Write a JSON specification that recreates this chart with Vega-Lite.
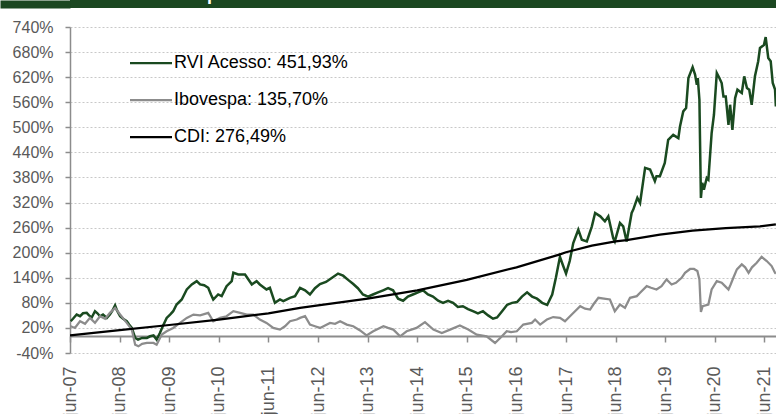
{
  "$schema": "https://vega.github.io/schema/vega-lite/v6.json",
  "padding": {"left": -4, "top": 0, "right": 0, "bottom": 0},
  "background": "white",
  "spacing": 11,
  "config": {"view": {"stroke": null}},
  "vconcat": [
    {
      "width": 706,
      "height": 8,
      "view": {"fill": "#1b4721", "stroke": null},
      "data": {"values": [{"titulo": "RVI Acesso x Ibovespa x CDI"}]},
      "mark": {"type": "text", "clip": true, "align": "left", "baseline": "alphabetic", "dx": -391, "dy": -3.6, "font": "Liberation Sans", "fontWeight": "bold", "fontSize": 18, "color": "white"},
      "encoding": {
        "text": {"field": "titulo", "type": "nominal"},
        "y": {
          "datum": 0.5, "type": "quantitative",
          "scale": {"domain": [0, 1], "nice": false, "zero": false},
          "axis": {"title": null, "values": [0.5], "labels": false, "domain": false, "grid": false,
                   "ticks": true, "tickSize": 70, "tickWidth": 8, "tickColor": "#1b4721", "tickCap": "butt", "tickRound": false,
                   "minExtent": 70, "maxExtent": 70}
        }
      }
    },
    {
      "width": 706,
      "height": 326,
      "encoding": {
        "x": {
          "field": "d", "type": "temporal", "title": null,
          "scale": {"type": "utc", "domain": [{"year": 2007, "month": 6, "date": 1, "utc": true}, {"year": 2021, "month": 8, "date": 25, "utc": true}]},
          "axis": {
            "values": [
              {"year": 2007, "month": 6, "date": 1, "utc": true}, {"year": 2008, "month": 6, "date": 1, "utc": true},
              {"year": 2009, "month": 6, "date": 1, "utc": true}, {"year": 2010, "month": 6, "date": 1, "utc": true},
              {"year": 2011, "month": 6, "date": 1, "utc": true}, {"year": 2012, "month": 6, "date": 1, "utc": true},
              {"year": 2013, "month": 6, "date": 1, "utc": true}, {"year": 2014, "month": 6, "date": 1, "utc": true},
              {"year": 2015, "month": 6, "date": 1, "utc": true}, {"year": 2016, "month": 6, "date": 1, "utc": true},
              {"year": 2017, "month": 6, "date": 1, "utc": true}, {"year": 2018, "month": 6, "date": 1, "utc": true},
              {"year": 2019, "month": 6, "date": 1, "utc": true}, {"year": 2020, "month": 6, "date": 1, "utc": true},
              {"year": 2021, "month": 6, "date": 1, "utc": true}
            ],
            "labelExpr": "'jun-' + utcFormat(datum.value, '%y')",
            "offset": -17, "grid": false,
            "domainColor": "#8c8c8c", "domainWidth": 2,
            "tickColor": "#8c8c8c", "tickWidth": 1.5, "tickSize": 6,
            "labelAngle": -90, "labelAlign": "right", "labelBaseline": "middle", "labelPadding": 24,
            "labelFont": "Liberation Sans", "labelFontSize": 18, "labelColor": "#595959",
            "labelOverlap": false, "labelFlush": false, "labelBound": false
          }
        },
        "y": {
          "field": "v", "type": "quantitative", "title": null,
          "scale": {"domain": [-40, 740], "nice": false, "zero": false},
          "axis": {
            "values": [-40, 20, 80, 140, 200, 260, 320, 380, 440, 500, 560, 620, 680, 740],
            "labelExpr": "datum.value + '%'",
            "grid": true, "gridColor": "#c8c8c8", "gridDash": [2, 2], "gridWidth": 1,
            "domainColor": "#8c8c8c", "domainWidth": 1.5,
            "tickColor": "#8c8c8c", "tickSize": 5, "tickWidth": 1.5,
            "labelPadding": 12, "labelFont": "Liberation Sans", "labelFontSize": 16, "labelColor": "#595959",
            "minExtent": 70, "maxExtent": 70,
            "labelOverlap": false, "labelFlush": false, "labelBound": false
          }
        }
      },
      "layer": [
        {
          "data": {"values": [
            {"d": "2007-06-06", "v": 36}, {"d": "2007-06-23", "v": 42}, {"d": "2007-07-20", "v": 52}, {"d": "2007-08-14", "v": 48},
            {"d": "2007-09-05", "v": 55}, {"d": "2007-10-02", "v": 56}, {"d": "2007-10-19", "v": 50}, {"d": "2007-11-08", "v": 45},
            {"d": "2007-12-02", "v": 60}, {"d": "2007-12-20", "v": 55}, {"d": "2008-01-08", "v": 48}, {"d": "2008-01-30", "v": 52},
            {"d": "2008-02-27", "v": 44}, {"d": "2008-03-21", "v": 52}, {"d": "2008-04-06", "v": 60}, {"d": "2008-04-28", "v": 74},
            {"d": "2008-05-12", "v": 62}, {"d": "2008-06-04", "v": 48}, {"d": "2008-06-26", "v": 42}, {"d": "2008-07-23", "v": 36},
            {"d": "2008-08-09", "v": 28}, {"d": "2008-08-29", "v": 20}, {"d": "2008-09-23", "v": -4}, {"d": "2008-10-14", "v": -8},
            {"d": "2008-11-13", "v": -4}, {"d": "2008-12-18", "v": -4}, {"d": "2009-01-11", "v": 0}, {"d": "2009-02-05", "v": 2},
            {"d": "2009-02-28", "v": -8}, {"d": "2009-03-24", "v": 8}, {"d": "2009-04-16", "v": 25}, {"d": "2009-05-13", "v": 44},
            {"d": "2009-06-07", "v": 52}, {"d": "2009-06-30", "v": 60}, {"d": "2009-07-25", "v": 76}, {"d": "2009-09-01", "v": 88},
            {"d": "2009-10-08", "v": 112}, {"d": "2009-11-14", "v": 124}, {"d": "2009-12-20", "v": 132}, {"d": "2010-01-14", "v": 124},
            {"d": "2010-02-13", "v": 122}, {"d": "2010-03-15", "v": 116}, {"d": "2010-04-04", "v": 100}, {"d": "2010-04-21", "v": 88},
            {"d": "2010-05-27", "v": 100}, {"d": "2010-06-22", "v": 96}, {"d": "2010-07-28", "v": 120}, {"d": "2010-09-04", "v": 132},
            {"d": "2010-09-16", "v": 152}, {"d": "2010-10-22", "v": 148}, {"d": "2010-12-11", "v": 148}, {"d": "2011-01-05", "v": 136},
            {"d": "2011-01-30", "v": 124}, {"d": "2011-03-06", "v": 132}, {"d": "2011-03-30", "v": 124}, {"d": "2011-05-18", "v": 112},
            {"d": "2011-06-12", "v": 116}, {"d": "2011-07-19", "v": 80}, {"d": "2011-08-25", "v": 88}, {"d": "2011-09-19", "v": 84},
            {"d": "2011-11-07", "v": 92}, {"d": "2011-12-14", "v": 96}, {"d": "2012-01-20", "v": 116}, {"d": "2012-02-26", "v": 110},
            {"d": "2012-04-02", "v": 100}, {"d": "2012-05-09", "v": 115}, {"d": "2012-06-15", "v": 125}, {"d": "2012-07-29", "v": 130},
            {"d": "2012-09-12", "v": 140}, {"d": "2012-10-26", "v": 150}, {"d": "2012-12-02", "v": 145}, {"d": "2013-01-08", "v": 135},
            {"d": "2013-02-15", "v": 125}, {"d": "2013-03-21", "v": 115}, {"d": "2013-04-27", "v": 100}, {"d": "2013-06-04", "v": 95},
            {"d": "2013-07-10", "v": 100}, {"d": "2013-08-16", "v": 105}, {"d": "2013-09-23", "v": 110}, {"d": "2013-10-29", "v": 115},
            {"d": "2013-12-05", "v": 110}, {"d": "2014-01-11", "v": 90}, {"d": "2014-02-17", "v": 85}, {"d": "2014-03-24", "v": 95},
            {"d": "2014-04-30", "v": 100}, {"d": "2014-06-07", "v": 105}, {"d": "2014-07-13", "v": 110}, {"d": "2014-08-19", "v": 100},
            {"d": "2014-09-25", "v": 95}, {"d": "2014-11-02", "v": 85}, {"d": "2014-12-08", "v": 80}, {"d": "2015-01-14", "v": 85},
            {"d": "2015-02-20", "v": 80}, {"d": "2015-03-27", "v": 70}, {"d": "2015-05-03", "v": 72}, {"d": "2015-06-10", "v": 65},
            {"d": "2015-07-16", "v": 60}, {"d": "2015-08-22", "v": 55}, {"d": "2015-09-28", "v": 60}, {"d": "2015-11-05", "v": 50},
            {"d": "2015-12-11", "v": 42}, {"d": "2016-01-10", "v": 45}, {"d": "2016-02-16", "v": 60}, {"d": "2016-03-23", "v": 75},
            {"d": "2016-04-29", "v": 80}, {"d": "2016-06-05", "v": 82}, {"d": "2016-07-11", "v": 95}, {"d": "2016-08-18", "v": 105},
            {"d": "2016-09-24", "v": 95}, {"d": "2016-10-30", "v": 90}, {"d": "2016-12-07", "v": 80}, {"d": "2017-01-13", "v": 75},
            {"d": "2017-02-19", "v": 100}, {"d": "2017-03-18", "v": 140}, {"d": "2017-04-17", "v": 190}, {"d": "2017-05-09", "v": 170},
            {"d": "2017-06-01", "v": 150}, {"d": "2017-06-28", "v": 180}, {"d": "2017-07-24", "v": 223}, {"d": "2017-08-30", "v": 255},
            {"d": "2017-09-25", "v": 231}, {"d": "2017-11-01", "v": 227}, {"d": "2017-12-08", "v": 263}, {"d": "2018-01-01", "v": 295},
            {"d": "2018-02-08", "v": 287}, {"d": "2018-03-14", "v": 275}, {"d": "2018-04-08", "v": 287}, {"d": "2018-05-14", "v": 235},
            {"d": "2018-05-26", "v": 227}, {"d": "2018-07-03", "v": 271}, {"d": "2018-07-27", "v": 263}, {"d": "2018-08-21", "v": 227},
            {"d": "2018-09-27", "v": 295}, {"d": "2018-10-09", "v": 303}, {"d": "2018-11-08", "v": 331}, {"d": "2018-11-28", "v": 319},
            {"d": "2019-01-04", "v": 403}, {"d": "2019-02-10", "v": 399}, {"d": "2019-03-17", "v": 371}, {"d": "2019-03-29", "v": 383},
            {"d": "2019-04-23", "v": 383}, {"d": "2019-05-29", "v": 415}, {"d": "2019-06-23", "v": 470}, {"d": "2019-07-30", "v": 482},
            {"d": "2019-09-06", "v": 474}, {"d": "2019-09-18", "v": 502}, {"d": "2019-10-12", "v": 538}, {"d": "2019-11-02", "v": 546},
            {"d": "2019-11-19", "v": 618}, {"d": "2019-12-20", "v": 644}, {"d": "2020-01-07", "v": 626}, {"d": "2020-01-20", "v": 602},
            {"d": "2020-01-27", "v": 618}, {"d": "2020-02-08", "v": 566}, {"d": "2020-02-19", "v": 331}, {"d": "2020-02-29", "v": 367},
            {"d": "2020-03-12", "v": 351}, {"d": "2020-04-02", "v": 379}, {"d": "2020-04-14", "v": 375}, {"d": "2020-05-08", "v": 486},
            {"d": "2020-05-25", "v": 530}, {"d": "2020-06-15", "v": 630}, {"d": "2020-07-04", "v": 618}, {"d": "2020-07-21", "v": 606},
            {"d": "2020-08-03", "v": 574}, {"d": "2020-08-20", "v": 574}, {"d": "2020-09-09", "v": 506}, {"d": "2020-09-21", "v": 554},
            {"d": "2020-10-08", "v": 494}, {"d": "2020-10-28", "v": 570}, {"d": "2020-11-14", "v": 590}, {"d": "2020-12-16", "v": 582},
            {"d": "2021-01-03", "v": 622}, {"d": "2021-01-23", "v": 594}, {"d": "2021-02-09", "v": 590}, {"d": "2021-02-27", "v": 554},
            {"d": "2021-03-23", "v": 622}, {"d": "2021-04-16", "v": 658}, {"d": "2021-04-29", "v": 690}, {"d": "2021-05-28", "v": 697},
            {"d": "2021-06-10", "v": 716}, {"d": "2021-06-29", "v": 666}, {"d": "2021-07-17", "v": 658}, {"d": "2021-08-01", "v": 606},
            {"d": "2021-08-18", "v": 590}, {"d": "2021-08-24", "v": 550}
          ]},
          "mark": {"type": "line", "strokeWidth": 2.5, "clip": true},
          "encoding": {
            "color": {
              "datum": "RVI Acesso: 451,93%", "type": "nominal",
              "scale": {"domain": ["RVI Acesso: 451,93%", "Ibovespa: 135,70%", "CDI: 276,49%"], "range": ["#1a4a20", "#8c8c8c", "#000000"]},
              "legend": {
                "orient": "none", "legendX": 72, "legendY": 54, "title": null, "padding": 0,
                "symbolType": "M-3,0H3", "symbolSize": 196, "symbolStrokeWidth": 2.25, "symbolFillColor": "transparent",
                "labelFont": "Liberation Sans", "labelFontSize": 18, "labelColor": "#000000", "labelOffset": 14,
                "rowPadding": 19, "labelLimit": 400
              }
            }
          }
        },
        {
          "data": {"values": [
            {"d": "2007-06-06", "v": 24}, {"d": "2007-07-07", "v": 20}, {"d": "2007-08-14", "v": 36}, {"d": "2007-09-20", "v": 30},
            {"d": "2007-10-26", "v": 44}, {"d": "2007-12-02", "v": 32}, {"d": "2008-01-08", "v": 48}, {"d": "2008-02-15", "v": 42},
            {"d": "2008-03-21", "v": 56}, {"d": "2008-04-28", "v": 68}, {"d": "2008-06-04", "v": 52}, {"d": "2008-07-23", "v": 32},
            {"d": "2008-08-29", "v": 16}, {"d": "2008-09-23", "v": -20}, {"d": "2008-10-17", "v": -24}, {"d": "2008-11-13", "v": -18},
            {"d": "2008-12-18", "v": -16}, {"d": "2009-02-05", "v": -16}, {"d": "2009-02-28", "v": -20}, {"d": "2009-04-07", "v": 4},
            {"d": "2009-05-13", "v": 12}, {"d": "2009-06-30", "v": 20}, {"d": "2009-08-19", "v": 32}, {"d": "2009-10-08", "v": 44},
            {"d": "2009-11-26", "v": 52}, {"d": "2010-01-14", "v": 50}, {"d": "2010-03-15", "v": 56}, {"d": "2010-04-21", "v": 36},
            {"d": "2010-06-10", "v": 44}, {"d": "2010-07-28", "v": 48}, {"d": "2010-09-16", "v": 60}, {"d": "2010-11-05", "v": 56},
            {"d": "2010-12-24", "v": 52}, {"d": "2011-02-09", "v": 52}, {"d": "2011-03-30", "v": 40}, {"d": "2011-05-18", "v": 32},
            {"d": "2011-07-07", "v": 20}, {"d": "2011-08-25", "v": 16}, {"d": "2011-10-01", "v": 24}, {"d": "2011-11-07", "v": 36},
            {"d": "2011-12-27", "v": 40}, {"d": "2012-01-20", "v": 44}, {"d": "2012-02-26", "v": 48}, {"d": "2012-04-02", "v": 28},
            {"d": "2012-05-09", "v": 24}, {"d": "2012-06-15", "v": 20}, {"d": "2012-07-22", "v": 26}, {"d": "2012-08-28", "v": 32},
            {"d": "2012-10-04", "v": 30}, {"d": "2012-11-10", "v": 36}, {"d": "2012-12-29", "v": 28}, {"d": "2013-02-15", "v": 24},
            {"d": "2013-04-06", "v": 14}, {"d": "2013-05-24", "v": 2}, {"d": "2013-07-12", "v": 12}, {"d": "2013-09-25", "v": 24},
            {"d": "2013-10-29", "v": 20}, {"d": "2013-12-07", "v": 16}, {"d": "2014-01-26", "v": 0}, {"d": "2014-03-15", "v": 12},
            {"d": "2014-05-27", "v": 20}, {"d": "2014-07-28", "v": 34}, {"d": "2014-09-28", "v": 16}, {"d": "2014-11-29", "v": 8},
            {"d": "2015-01-29", "v": 16}, {"d": "2015-04-11", "v": 26}, {"d": "2015-06-12", "v": 16}, {"d": "2015-08-13", "v": 4},
            {"d": "2015-10-25", "v": 0}, {"d": "2015-12-26", "v": -16}, {"d": "2016-02-02", "v": -4}, {"d": "2016-03-21", "v": 12},
            {"d": "2016-04-22", "v": 10}, {"d": "2016-06-03", "v": 12}, {"d": "2016-07-21", "v": 28}, {"d": "2016-09-22", "v": 32},
            {"d": "2016-10-16", "v": 40}, {"d": "2016-11-22", "v": 28}, {"d": "2017-01-11", "v": 40}, {"d": "2017-02-26", "v": 46},
            {"d": "2017-04-17", "v": 44}, {"d": "2017-05-24", "v": 36}, {"d": "2017-06-30", "v": 48}, {"d": "2017-08-06", "v": 60},
            {"d": "2017-09-13", "v": 72}, {"d": "2017-10-19", "v": 66}, {"d": "2017-11-25", "v": 64}, {"d": "2017-12-19", "v": 76},
            {"d": "2018-01-25", "v": 92}, {"d": "2018-03-07", "v": 90}, {"d": "2018-04-20", "v": 88}, {"d": "2018-05-26", "v": 60},
            {"d": "2018-07-03", "v": 76}, {"d": "2018-08-09", "v": 68}, {"d": "2018-09-15", "v": 92}, {"d": "2018-11-04", "v": 96},
            {"d": "2018-11-28", "v": 104}, {"d": "2019-01-16", "v": 120}, {"d": "2019-02-17", "v": 116}, {"d": "2019-03-29", "v": 112},
            {"d": "2019-05-05", "v": 120}, {"d": "2019-06-11", "v": 136}, {"d": "2019-07-18", "v": 124}, {"d": "2019-08-19", "v": 128},
            {"d": "2019-09-30", "v": 140}, {"d": "2019-10-25", "v": 152}, {"d": "2019-12-01", "v": 161}, {"d": "2019-12-30", "v": 161},
            {"d": "2020-01-24", "v": 156}, {"d": "2020-02-08", "v": 136}, {"d": "2020-02-19", "v": 58}, {"d": "2020-03-03", "v": 72},
            {"d": "2020-04-14", "v": 76}, {"d": "2020-05-08", "v": 112}, {"d": "2020-06-15", "v": 132}, {"d": "2020-07-21", "v": 128},
            {"d": "2020-08-15", "v": 120}, {"d": "2020-09-09", "v": 112}, {"d": "2020-09-25", "v": 124}, {"d": "2020-10-15", "v": 140},
            {"d": "2020-11-10", "v": 160}, {"d": "2020-12-16", "v": 172}, {"d": "2021-01-10", "v": 165}, {"d": "2021-02-04", "v": 152},
            {"d": "2021-03-01", "v": 165}, {"d": "2021-04-05", "v": 176}, {"d": "2021-05-11", "v": 190}, {"d": "2021-06-18", "v": 180},
            {"d": "2021-07-24", "v": 168}, {"d": "2021-08-18", "v": 152}, {"d": "2021-08-24", "v": 150}
          ]},
          "mark": {"type": "line", "strokeWidth": 2.25, "clip": true},
          "encoding": {"color": {"datum": "Ibovespa: 135,70%", "type": "nominal"}}
        },
        {
          "data": {"values": [
            {"d": "2007-06-01", "v": 2}, {"d": "2008-06-01", "v": 15}, {"d": "2009-06-01", "v": 27}, {"d": "2010-06-01", "v": 40},
            {"d": "2011-06-01", "v": 55}, {"d": "2012-01-20", "v": 68}, {"d": "2012-06-01", "v": 74}, {"d": "2013-06-01", "v": 90},
            {"d": "2014-06-01", "v": 110}, {"d": "2015-06-01", "v": 135}, {"d": "2016-06-01", "v": 165}, {"d": "2017-04-17", "v": 196},
            {"d": "2017-06-01", "v": 201}, {"d": "2017-12-08", "v": 217}, {"d": "2018-06-01", "v": 227}, {"d": "2018-08-21", "v": 230},
            {"d": "2019-04-23", "v": 243}, {"d": "2019-12-20", "v": 253}, {"d": "2020-08-20", "v": 259}, {"d": "2021-04-29", "v": 263},
            {"d": "2021-08-24", "v": 268}
          ]},
          "mark": {"type": "line", "strokeWidth": 2.25, "clip": true},
          "encoding": {"color": {"datum": "CDI: 276,49%", "type": "nominal"}}
        }
      ]
    }
  ]
}
